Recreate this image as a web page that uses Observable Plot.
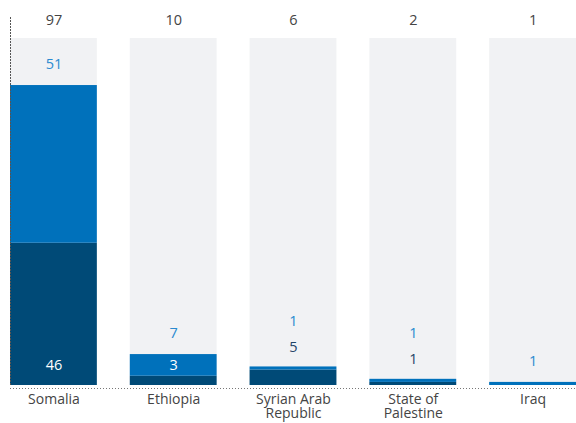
<!DOCTYPE html>
<html><head><meta charset="utf-8">
<script src="https://cdn.jsdelivr.net/npm/d3@7"></script>
<script src="https://cdn.jsdelivr.net/npm/@observablehq/plot@0.6"></script>
<style>body{margin:0;background:#fff}</style>
</head><body><div id="chart"></div>
<script>
const countries = ["Somalia", "Ethiopia", "Syrian Arab Republic", "State of Palestine", "Iraq"];
const tickLabels = ["Somalia", "Ethiopia", "Syrian Arab\nRepublic", "State of\nPalestine", "Iraq"];
const darkValues = [46, 3, 5, 1, 0];
const blueValues = [51, 7, 1, 1, 1];
const totals = [97, 10, 6, 2, 1];
const yMax = 119;
const bgTop = 112.2;

const navy = "#004a77";
const blue = "#0071bb";
const grey = "#f1f2f4";
const navyText = "#1d4466";
const blueText = "#2a8ad0";
const textGrey = "#444";

const rows = countries.map((c, i) => ({country: c, dark: darkValues[i], blue: blueValues[i], total: totals[i]}));
const segs = rows.flatMap(r => [
  {country: r.country, series: "dark", value: r.dark},
  {country: r.country, series: "blue", value: r.blue}
]);
const inside = r => r.total >= 10;

const chart = Plot.plot({
  width: 576,
  height: 423,
  marginTop: 17,
  marginBottom: 38,
  marginLeft: 10,
  marginRight: 0,
  style: {fontFamily: "'Open Sans', sans-serif", fontSize: "14.5px", color: textGrey, background: "#fff"},
  x: {domain: countries, paddingInner: 0.275, paddingOuter: 0, align: 0, round: false, label: null, axis: null},
  y: {domain: [0, yMax], axis: null},
  marks: [
    Plot.barY(rows, {x: "country", y: () => bgTop, fill: grey}),
    Plot.barY(segs, Plot.stackY({x: "country", y: "value", fill: d => d.series === "dark" ? navy : blue})),
    Plot.frame({anchor: "left", stroke: "#555", strokeDasharray: "1,2"}),
    Plot.ruleY([0], {stroke: "#777", strokeDasharray: "1,2", dy: 3}),
    Plot.axisX({tickSize: 0, tickPadding: 9, label: null, lineHeight: 1.0, fontSize: 14, fill: textGrey,
                tickFormat: d => tickLabels[countries.indexOf(d)]}),
    Plot.text(rows, {x: "country", frameAnchor: "top", lineAnchor: "middle", text: d => String(d.total), fill: textGrey, dy: 3}),
    Plot.text(rows.filter(r => r.dark > 0 && inside(r)), {x: "country", y: () => 0, text: d => String(d.dark), fill: "#fff", dy: -20}),
    Plot.text(rows.filter(r => r.dark > 0 && !inside(r)), {x: "country", y: "total", text: d => String(d.dark), fill: navyText, dy: -20}),
    Plot.text(rows.filter(r => !(r.dark > 0 && !inside(r))), {x: "country", y: "total", text: d => String(d.blue), fill: blueText, dy: -21}),
    Plot.text(rows.filter(r => r.dark > 0 && !inside(r)), {x: "country", y: "total", text: d => String(d.blue), fill: blueText, dy: -46})
  ]
});
document.getElementById("chart").append(chart);
</script>
</body></html>
